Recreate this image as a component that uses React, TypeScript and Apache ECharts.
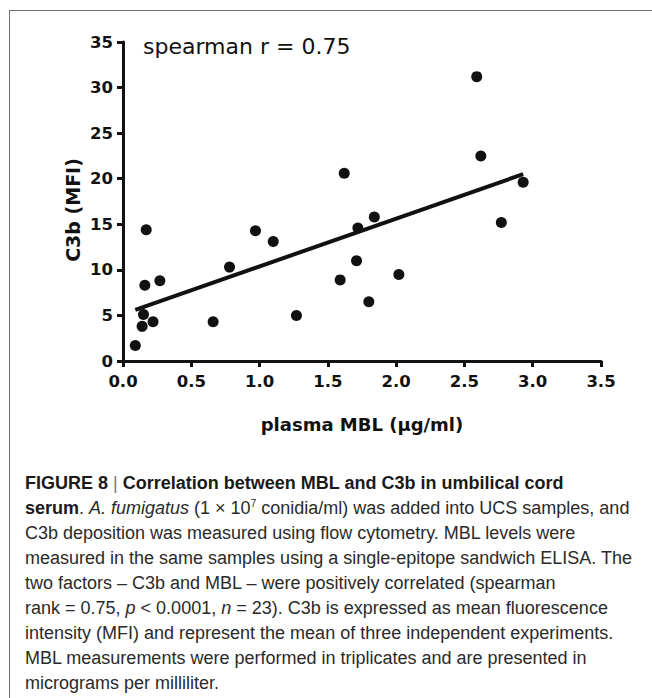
import React, { useEffect, useRef } from "react";
import * as echarts from "echarts";

const mblValues = [0.09, 0.14, 0.15, 0.22, 0.16, 0.17, 0.27, 0.66, 0.78, 0.97, 1.1, 1.27, 1.59, 1.62, 1.71, 1.72, 1.8, 1.84, 2.02, 2.59, 2.62, 2.77, 2.93];
const c3bValues = [1.7, 3.8, 5.1, 4.3, 8.3, 14.4, 8.8, 4.3, 10.3, 14.3, 13.1, 5.0, 8.9, 20.6, 11.0, 14.6, 6.5, 15.8, 9.5, 31.2, 22.5, 15.2, 19.6];
const fitX = [0.09, 2.93];
const fitY = [5.6, 20.5];
const xTickLabels = ["0.0", "0.5", "1.0", "1.5", "2.0", "2.5", "3.0", "3.5"];
const yTickLabels = ["0", "5", "10", "15", "20", "25", "30", "35"];

const INK = "#111";

export default function App() {
  const ref = useRef<HTMLDivElement>(null);
  useEffect(() => {
    if (!ref.current) return;
    const chart = echarts.init(ref.current, null, { renderer: "svg" });
    const axisLabel = {
      fontFamily: "DejaVu Sans",
      fontWeight: "bold" as const,
      fontSize: 16.5,
      color: INK,
    };
    chart.setOption({
      animation: false,
      backgroundColor: "transparent",
      grid: { left: 123, top: 42, width: 478, height: 319, containLabel: false },
      xAxis: {
        type: "value",
        min: 0,
        max: 3.5,
        interval: 0.5,
        splitLine: { show: false },
        axisLine: { show: true, lineStyle: { color: INK, width: 3 } },
        axisTick: { show: true, length: 6, lineStyle: { color: INK, width: 3 } },
        axisLabel: {
          ...axisLabel,
          margin: 12,
          formatter: (v: number) => xTickLabels[Math.round(v / 0.5)] ?? "",
        },
      },
      yAxis: {
        type: "value",
        min: 0,
        max: 35,
        interval: 5,
        splitLine: { show: false },
        axisLine: { show: true, lineStyle: { color: INK, width: 3 } },
        axisTick: { show: true, length: 6, lineStyle: { color: INK, width: 3 } },
        axisLabel: {
          ...axisLabel,
          margin: 10,
          formatter: (v: number) => yTickLabels[Math.round(v / 5)] ?? "",
        },
      },
      series: [
        {
          type: "line",
          data: fitX.map((x, i) => [x, fitY[i]]),
          symbol: "none",
          lineStyle: { color: INK, width: 4 },
          z: 2,
        },
        {
          type: "scatter",
          data: mblValues.map((x, i) => [x, c3bValues[i]]),
          symbol: "circle",
          symbolSize: 11,
          itemStyle: { color: INK, opacity: 1 },
          z: 3,
        },
      ],
      graphic: [
        {
          type: "text",
          left: 143,
          top: 35,
          style: {
            text: "spearman r = 0.75",
            font: "22px 'DejaVu Sans'",
            fill: INK,
          },
        },
        {
          type: "text",
          x: 362,
          y: 424,
          style: {
            text: "plasma MBL (\u03bcg/ml)",
            font: "bold 18px 'DejaVu Sans'",
            fill: INK,
            align: "center",
            verticalAlign: "middle",
          },
        },
        {
          type: "text",
          x: 73,
          y: 210,
          rotation: Math.PI / 2,
          style: {
            text: "C3b (MFI)",
            font: "bold 19px 'DejaVu Sans'",
            fill: INK,
            align: "center",
            verticalAlign: "middle",
          },
        },
      ],
    });
    return () => chart.dispose();
  }, []);

  const sup: React.CSSProperties = { fontSize: 10, position: "relative", top: -7, lineHeight: 0 };
  return (
    <div style={{ position: "absolute", left: 0, top: 0, width: 652, height: 698, background: "#fff", overflow: "hidden" }}>
      <div
        style={{
          position: "absolute",
          left: 9,
          top: 10,
          width: 700,
          height: 700,
          borderLeft: "1px solid #6e6e6e",
          borderTop: "1px solid #6e6e6e",
        }}
      />
      <div ref={ref} style={{ position: "absolute", left: 0, top: 0, width: 652, height: 460 }} />
      <div
        style={{
          position: "absolute",
          left: 25,
          top: 471,
          fontFamily: "'Liberation Sans', Arial, sans-serif",
          fontSize: 18,
          lineHeight: "25px",
          color: "#2a2a2a",
          whiteSpace: "nowrap",
        }}
      >
        <div>
          <b style={{ color: "#1a1a1a" }}>FIGURE 8</b> <span style={{ color: "#777" }}>|</span>{" "}
          <b style={{ color: "#1a1a1a" }}>Correlation between MBL and C3b in umbilical cord</b>
        </div>
        <div>
          <b style={{ color: "#1a1a1a" }}>serum</b>. <i>A. fumigatus</i> (1 × 10<span style={sup}>7</span> conidia/ml) was added into UCS samples, and
        </div>
        <div>C3b deposition was measured using flow cytometry. MBL levels were</div>
        <div>measured in the same samples using a single-epitope sandwich ELISA. The</div>
        <div>two factors – C3b and MBL – were positively correlated (spearman</div>
        <div>
          rank = 0.75, <i>p</i> &lt; 0.0001, <i>n</i> = 23). C3b is expressed as mean fluorescence
        </div>
        <div>intensity (MFI) and represent the mean of three independent experiments.</div>
        <div>MBL measurements were performed in triplicates and are presented in</div>
        <div>micrograms per milliliter.</div>
      </div>
    </div>
  );
}
